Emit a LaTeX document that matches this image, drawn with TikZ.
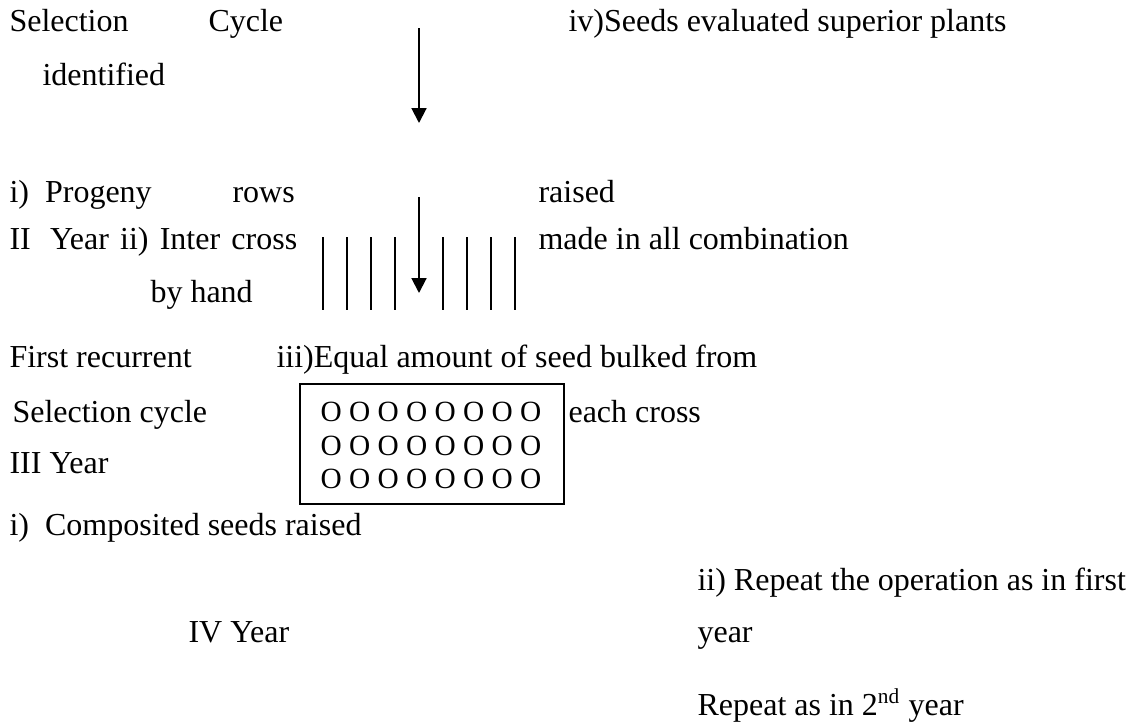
\documentclass[tikz,border=0pt]{standalone}
\usepackage{fontspec}
\setmainfont{Liberation Serif}
\usetikzlibrary{arrows.meta}
\begin{document}
\begin{tikzpicture}
[x=0.375pt,y=-0.375pt,
  textdecorate/.style={anchor=base west,inner sep=0pt,font=\fontsize{12}{14}\selectfont},%
  seeddecorate/.style={anchor=base west,inner sep=0pt,font=\fontsize{11}{13}\selectfont},%
  arrowdecorate/.style={-{Triangle[length=5.6pt,width=5.6pt]},line width=0.75pt},%
  linedecorate/.style={-,line width=0.75pt}]
\useasboundingbox (0,0) rectangle (1132,725);
%% texts of the scheme
\foreach \nodename/\x/\y/\txt in {sel/9/31/Selection, cyc/208/31/Cycle,
  superior/568/31/iv)Seeds evaluated superior plants, ident/42/85/identified,
  prog/9/202/i)\hspace{0.5em}Progeny, rows/232/202/rows, raised/538/202/raised,
  inter/9/249/II\hspace{0.6em}Year\hspace{0.35em}ii)\hspace{0.35em}Inter\hspace{0.35em}cross,
  made/538/249/made in all combination,
  hand/150/302/by hand, first/9/367/First recurrent,
  equal/276/367/iii)Equal amount of seed bulked from,
  selcyc/12/422/Selection cycle, each/568/422/each cross, third/9/473/III Year,
  comp/9/535/i)\hspace{0.5em}Composited seeds raised,
  repeat/697/590/ii) Repeat the operation as in first, year/697/642/year,
  fourth/188/642/IV Year, again/697/715/Repeat as in 2\textsuperscript{nd} year} {
  \node (\nodename) at (\x,\y) [textdecorate] {\txt};
}
%% arrows
\coordinate (top1) at (419,28);
\coordinate (tip1) at (419,123);
\coordinate (top2) at (419,197);
\coordinate (tip2) at (419,293);
\draw[arrowdecorate] (top1) -- (tip1);
\draw[arrowdecorate] (top2) -- (tip2);
%% crossing rows
\foreach \x in {323,347,371,395,443,467,491,515} {
  \draw[linedecorate] (\x,237) -- (\x,310);
}
%% bulked seed box
\draw[linedecorate] (300,384) rectangle (564,504);
\foreach \rowname/\y in {row1/421, row2/455, row3/488} {
  \node (\rowname) at (320,\y) [seeddecorate] {O O O O O O O O};
}
\end{tikzpicture}
\end{document}
